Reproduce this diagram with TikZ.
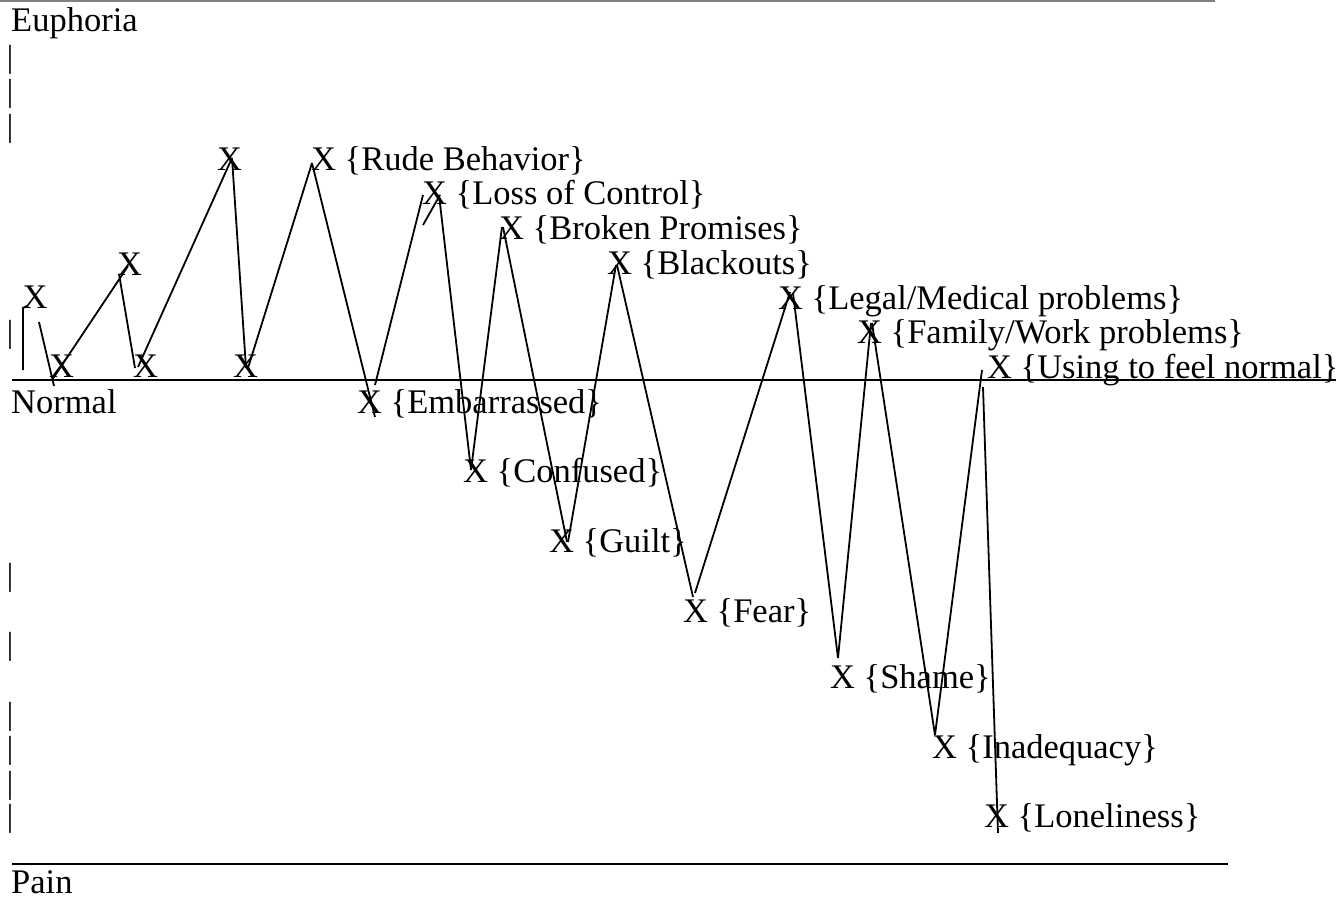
\documentclass[tikz,border=0pt]{standalone}
\usepackage{fontspec}
\setmainfont{Liberation Serif}

\begin{document}
\begin{tikzpicture}[x=1pt, y=-1pt,
	txt/.style={anchor=base west, inner sep=0pt, font=\fontsize{34.5}{40}\selectfont},
	tick/.style={inner sep=0pt, font=\fontsize{32}{38}\selectfont},
	trace/.style={line width=1.8pt}]
	\useasboundingbox (0,0) rectangle (1336,899);
	\draw[line width=1.5pt, gray] (0,1) -- (1215,1); % top rule
	\draw[line width=1.8pt] (12,380) -- (1336,380); % normal line
	\draw[line width=1.8pt] (12,864) -- (1228,864); % bottom rule
	\node[txt] (euphoria) at (11,32) {Euphoria};
	\node[txt] (normal) at (11,413) {Normal};
	\node[txt] (pain) at (11,893) {Pain};
	\foreach \y [count=\i] in {59.5,93.5,128.5,335,577.5,646.5,717,751,786,819}
		\node[tick] (bar\i) at (10,\y) {\textbar};
	% marks above the line
	\node[txt] (xa) at (22.5,308) {X};
	\node[txt] (xb) at (49,377) {X};
	\node[txt] (xc) at (117,275) {X};
	\node[txt] (xd) at (133,377) {X};
	\node[txt] (xe) at (217,170) {X};
	\node[txt] (xf) at (233,377) {X};
	\node[txt] (rude) at (311,170) {X \{Rude Behavior\}};
	\node[txt] (loss) at (422,204) {X \{Loss of Control\}};
	\node[txt] (broken) at (499,239) {X \{Broken Promises\}};
	\node[txt] (blackouts) at (607,274) {X \{Blackouts\}};
	\node[txt] (legal) at (778,309) {X \{Legal/Medical problems\}};
	\node[txt] (family) at (857,343) {X \{Family/Work problems\}};
	\node[txt] (using) at (987,378) {X \{Using to feel normal\}};
	% marks below the line
	\node[txt] (embarrassed) at (357,413) {X \{Embarrassed\}};
	\node[txt] (confused) at (463,482) {X \{Confused\}};
	\node[txt] (guilt) at (549,552) {X \{Guilt\}};
	\node[txt] (fear) at (683,622) {X \{Fear\}};
	\node[txt] (shame) at (830,688) {X \{Shame\}};
	\node[txt] (inadequacy) at (932,758) {X \{Inadequacy\}};
	\node[txt] (loneliness) at (984,827) {X \{Loneliness\}};
	% the ride
	\draw[trace] (23,370) -- (23,308) -- (27,306);
	\draw[trace] (39,322) -- (54,386);
	\draw[trace] (52,380) -- (128,266);
	\draw[trace] (119,274) -- (135,368);
	\draw[trace] (138,367) -- (232,158);
	\draw[trace] (232,158) -- (246,368);
	\draw[trace] (248,368) -- (312,163);
	\draw[trace] (312,163) -- (375,417);
	\draw[trace] (375,385) -- (423,195);
	\draw[trace] (423,225) -- (440,195);
	\draw[trace] (439,195) -- (471,470);
	\draw[trace] (471,470) -- (502,227);
	\draw[trace] (503,227) -- (567,542);
	\draw[trace] (568,542) -- (616,265);
	\draw[trace] (617,265) -- (693,597);
	\draw[trace] (695,593) -- (790,292);
	\draw[trace] (793,293) -- (838,658);
	\draw[trace] (838,658) -- (871,323);
	\draw[trace] (872,323) -- (935,735);
	\draw[trace] (935,735) -- (982,370);
	\draw[trace] (983,387) -- (998,833);
\end{tikzpicture}
\end{document}
